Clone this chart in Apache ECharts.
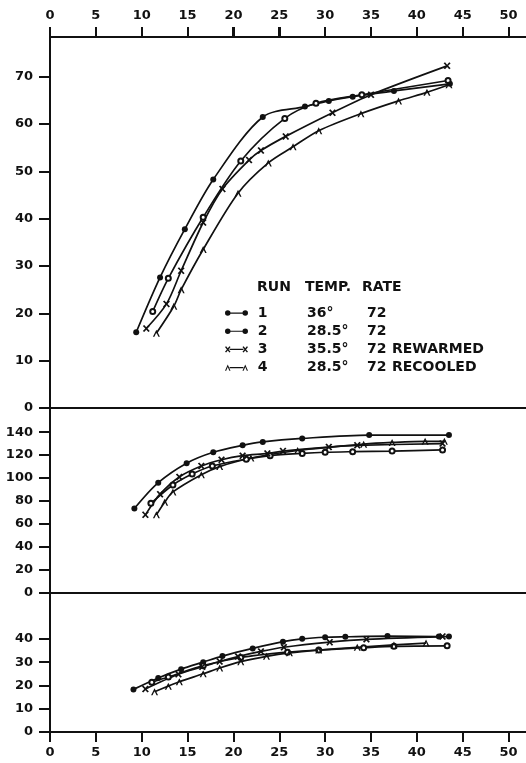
<!DOCTYPE html>
<html>
<head>
<meta charset="utf-8">
<script src="https://cdn.jsdelivr.net/npm/echarts@6/dist/echarts.min.js"></script>
<style>
  html, body { margin: 0; padding: 0; background: #fff; }
  #chart { width: 526px; height: 763px; }
</style>
</head>
<body>
<div id="chart"></div>
<script>
// tick labels
const xTicks = [0, 5, 10, 15, 20, 25, 30, 35, 40, 45, 50];
const topTicks = [0, 10, 20, 30, 40, 50, 60, 70];
const midTicks = [0, 20, 40, 60, 80, 100, 120, 140];
const botTicks = [0, 10, 20, 30, 40];

// legend rows: run, temp, rate, note
const runs = ['1', '2', '3', '4'];
const temps = ['36°', '28.5°', '35.5°', '28.5°'];
const rates = ['72', '72', '72', '72'];
const notes = ['', '', 'REWARMED', 'RECOOLED'];

// upper panel
const run1Top = [[9.4, 16], [12, 27.6], [14.7, 37.8], [17.8, 48.3], [23.2, 61.5], [27.8, 63.7], [30.4, 64.9], [33, 65.8], [37.5, 67], [43.6, 68.5]];
const run2Top = [[11.2, 20.4], [12.9, 27.4], [16.7, 40.3], [20.8, 52.2], [25.6, 61.2], [29, 64.4], [34, 66.2], [43.4, 69.2]];
const run3Top = [[10.5, 16.8], [12.7, 22], [14.3, 29], [16.7, 39.2], [18.8, 46.3], [21.7, 52.4], [23, 54.4], [25.7, 57.4], [30.8, 62.4], [35, 66.2], [43.3, 72.3]];
const run4Top = [[11.6, 15.8], [13.5, 21.5], [14.3, 25], [16.7, 33.5], [20.5, 45.4], [23.8, 51.8], [26.5, 55.2], [29.3, 58.6], [33.9, 62.2], [38, 64.9], [41.1, 66.7], [43.5, 68.3]];

// middle panel
const run1Mid = [[9.2, 73.5], [11.8, 96], [14.9, 113], [17.8, 122.5], [21, 128.5], [23.2, 131.5], [27.5, 134.5], [34.8, 137.4], [43.5, 137.4]];
const run2Mid = [[11, 78], [13.4, 94], [15.5, 103.5], [17.7, 110.5], [21.4, 116.5], [24, 119.5], [27.5, 121.5], [30, 122.5], [33, 123], [37.3, 123.5], [42.8, 124.5]];
const run3Mid = [[10.4, 68], [12, 86], [14.1, 101], [16.5, 110.5], [18.7, 116], [21, 119.5], [23.7, 121.5], [25.4, 123.5], [30.4, 127], [33.5, 128.5], [42.8, 130]];
const run4Mid = [[11.6, 68], [12.5, 79], [13.4, 88], [16.5, 103], [18.5, 110], [21.9, 117.5], [27, 124], [34.2, 129.5], [37.3, 131], [40.9, 132], [43, 132]];

// lower panel
const run1Bot = [[9.1, 18.3], [11.8, 23.2], [14.3, 27], [16.7, 30], [18.8, 32.6], [22.1, 35.9], [25.4, 38.8], [27.5, 40], [30, 40.7], [32.2, 40.9], [36.8, 41.2], [42.4, 41], [43.5, 41]];
const run2Bot = [[11.1, 21.4], [12.9, 23.6], [16.7, 28.5], [20.8, 32], [25.9, 34.3], [29.3, 35.2], [34.2, 36.2], [37.5, 36.8], [43.3, 37]];
const run3Bot = [[10.4, 18.5], [14, 24.8], [16.6, 28], [18.5, 30.3], [20.5, 32.4], [23, 34.6], [25.5, 36.4], [30.5, 38.6], [34.5, 39.8], [42.8, 41]];
const run4Bot = [[11.4, 17.3], [12.9, 19.7], [14.1, 21.6], [16.7, 25], [18.5, 27.5], [20.8, 30.2], [23.6, 32.5], [26.1, 34], [29.3, 35.2], [33.5, 36.4], [37.5, 37.4], [41, 38.2]];

const FONT = 'DejaVu Sans';
const INK = '#111';

// marker shapes
function xShape(dx) {
  const p = [[0,1],[1.2,0],[3,2.3],[4.8,0],[6,1],[3.9,3.5],[6,6],[4.8,7],[3,4.7],[1.2,7],[0,6],[2.1,3.5]];
  return 'M' + p.map(q => (q[0] + dx) + ',' + q[1]).join('L') + 'Z';
}
function caretShape(dx) {
  const p = [[0,7],[3,0],[6,7],[4.7,7],[3,2.8],[1.3,7]];
  return 'M' + p.map(q => (q[0] + dx) + ',' + q[1]).join('L') + 'Z';
}
const dot = (dx) => 'M' + dx + ',3.5a3,3 0 1 1 6,0a3,3 0 1 1 -6,0Z';
const bar = 'M5,2.9h15v1.3h-15Z';

const symX = 'path://' + xShape(0);
const symCaret = 'path://' + caretShape(0);
const legendIcons = [
  'path://' + dot(0) + bar + dot(19),
  'path://' + dot(0) + bar + dot(19),
  'path://' + xShape(0) + bar + xShape(19),
  'path://' + caretShape(0) + bar + caretShape(19)
];

const symbols = [
  { symbol: 'circle', size: 6 },
  { symbol: 'emptyCircle', size: 5 },
  { symbol: symX, size: 7 },
  { symbol: symCaret, size: 7 }
];

function line(i, data, xIdx, yIdx) {
  return {
    name: runs[i],
    type: 'line',
    xAxisIndex: xIdx,
    yAxisIndex: yIdx,
    data: data,
    smooth: 0.3,
    symbol: symbols[i].symbol,
    symbolSize: symbols[i].size,
    showAllSymbol: true,
    lineStyle: { color: INK, width: 1.7 },
    itemStyle: { color: INK, borderColor: INK, borderWidth: i === 1 ? 2 : 0 },
    emphasis: { disabled: true },
    animation: false
  };
}

const labelStyle = { color: INK, fontFamily: FONT, fontWeight: 'bold', fontSize: 13 };
const axisLine = { show: true, onZero: false, lineStyle: { color: INK, width: 2 } };
const tickStyle = { color: INK, width: 2 };

function xAxis(grid, pos, showLabels) {
  return {
    type: 'value', gridIndex: grid, position: pos, min: 0, max: 51.9,
    axisLine: axisLine,
    axisTick: { show: showLabels, length: 10, lineStyle: tickStyle, customValues: xTicks },
    axisLabel: Object.assign({ show: showLabels, margin: pos === 'top' ? 15 : 14, customValues: xTicks }, labelStyle),
    splitLine: { show: false }
  };
}
function yAxis(grid, max, ticks) {
  return {
    type: 'value', gridIndex: grid, min: 0, max: max,
    axisLine: axisLine,
    axisTick: { show: true, length: 11, lineStyle: tickStyle, customValues: ticks },
    axisLabel: Object.assign({ margin: 17, customValues: ticks }, labelStyle),
    splitLine: { show: false }
  };
}

const legendFont = { fontFamily: FONT, fontWeight: 'bold', fontSize: 14, color: INK };

const chart = echarts.init(document.getElementById('chart'));
const option = {
  backgroundColor: '#fff',
  animation: false,
  grid: [
    { left: 50, right: 0, top: 37, height: 371 },
    { left: 50, right: 0, top: 408, height: 185 },
    { left: 50, right: 0, top: 593, height: 139 }
  ],
  xAxis: [
    xAxis(0, 'top', true),
    xAxis(1, 'top', false),
    xAxis(1, 'bottom', false),
    xAxis(2, 'bottom', true)
  ],
  yAxis: [
    yAxis(0, 78.4, topTicks),
    yAxis(1, 161, midTicks),
    yAxis(2, 59.7, botTicks)
  ],
  legend: {
    orient: 'vertical',
    left: 225,
    top: 306,
    padding: 0,
    itemWidth: 23,
    itemHeight: 7,
    itemGap: 4.2,
    selectedMode: false,
    itemStyle: { color: INK, borderWidth: 0 },
    data: runs.map((r, i) => ({ name: r, icon: legendIcons[i] })),
    formatter: function (name) {
      const i = runs.indexOf(name);
      return '{a| ' + runs[i] + '}{b|' + temps[i] + '}{c|' + rates[i] + '}{d|' + notes[i] + '}';
    },
    textStyle: {
      color: INK,
      rich: {
        a: Object.assign({ width: 54 }, legendFont),
        b: Object.assign({ width: 60 }, legendFont),
        c: Object.assign({ width: 25 }, legendFont),
        d: Object.assign({}, legendFont)
      }
    }
  },
  graphic: [
    { type: 'text', left: 257, top: 280, style: { text: 'RUN', fill: INK, font: 'bold 14px ' + FONT } },
    { type: 'text', left: 305, top: 280, style: { text: 'TEMP.', fill: INK, font: 'bold 14px ' + FONT } },
    { type: 'text', left: 362, top: 280, style: { text: 'RATE', fill: INK, font: 'bold 14px ' + FONT } }
  ],
  series: [
    line(0, run1Top, 0, 0), line(1, run2Top, 0, 0), line(2, run3Top, 0, 0), line(3, run4Top, 0, 0),
    line(0, run1Mid, 2, 1), line(1, run2Mid, 2, 1), line(2, run3Mid, 2, 1), line(3, run4Mid, 2, 1),
    line(0, run1Bot, 3, 2), line(1, run2Bot, 3, 2), line(2, run3Bot, 3, 2), line(3, run4Bot, 3, 2)
  ]
};
chart.setOption(option);

// upward tick marks on the top axis, placed through the axis scale
const topY = chart.convertToPixel({ yAxisIndex: 0 }, 78.4);
const topTickMarks = xTicks.map(function (v) {
  const x = Math.round(chart.convertToPixel({ xAxisIndex: 0 }, v));
  return {
    type: 'line', z: 100, silent: true,
    shape: { x1: x, y1: topY - 10, x2: x, y2: topY },
    style: { stroke: INK, lineWidth: 2 }
  };
});
chart.setOption({ graphic: option.graphic.concat(topTickMarks) });
</script>
</body>
</html>
